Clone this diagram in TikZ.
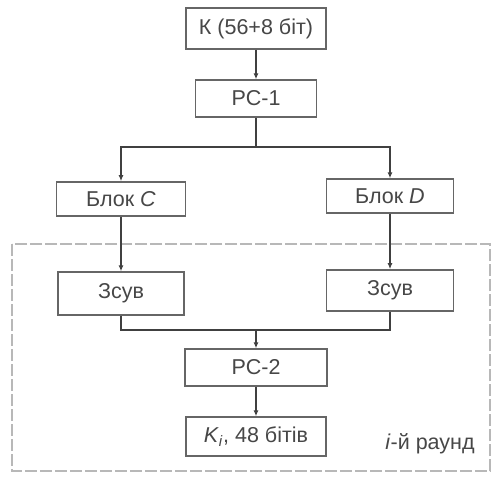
\documentclass[tikz,border=0pt]{standalone}
\usepackage{fontspec}
\setmainfont{Liberation Sans}
\usetikzlibrary{arrows.meta}
\begin{document}
\begin{tikzpicture}[x=1pt,y=-1pt,
  blk/.style={draw=black!60,line width=1.4pt,fill=white,inner sep=0pt,
    font=\fontsize{21.5}{24}\selectfont,text=black!72},
  conn/.style={draw=black!75,line width=1.1pt},
  arr/.style={conn,-{Latex[length=6pt,width=5pt]}}]
\useasboundingbox (0,0) rectangle (492,476);
\fill[white] (0,0) rectangle (492,476);
\draw[black!28,line width=1.3pt,dash pattern=on 12pt off 3pt] (12,244) rectangle (490,471);
\node[blk,minimum width=140pt,minimum height=41pt] (K) at (256,28.5) {К (56+8 біт)};
\node[blk,minimum width=121pt,minimum height=37pt] (PC1) at (256,98.5) {PC-1};
\node[blk,minimum width=129pt,minimum height=34pt,line width=1.7pt] (BC) at (121,199) {Блок \textit{C}};
\node[blk,minimum width=127pt,minimum height=34pt] (BD) at (390,196) {Блок \textit{D}};
\node[blk,minimum width=126pt,minimum height=43pt] (Z1) at (121,293.5) {Зсув};
\node[blk,minimum width=127pt,minimum height=41pt,line width=1.7pt] (Z2) at (390,290.5) {Зсув};
\node[blk,minimum width=142pt,minimum height=37pt] (PC2) at (256,367.5) {PC-2};
\node[blk,minimum width=140pt,minimum height=39pt] (Ki) at (256,436.5) {\textit{K}\textsubscript{\textit{i}}, 48 бітів};
\node[font=\fontsize{21.5}{24}\selectfont,text=black!72] (R) at (430,444) {\textit{і}-й раунд};
\coordinate (S) at (256,147);
\coordinate (M) at (256,330);
\draw[arr] (K.south) -- (PC1.north);
\draw[conn] (PC1.south) -- (S);
\draw[arr] (S) -| (BC.north);
\draw[arr] (S) -| (BD.north);
\draw[arr] (BC.south) -- (Z1.north);
\draw[arr] (BD.south) -- (Z2.north);
\draw[conn] (Z1.south) |- (M) -| (Z2.south);
\draw[arr] (M) -- (PC2.north);
\draw[arr] (PC2.south) -- (Ki.north);
\end{tikzpicture}
\end{document}
